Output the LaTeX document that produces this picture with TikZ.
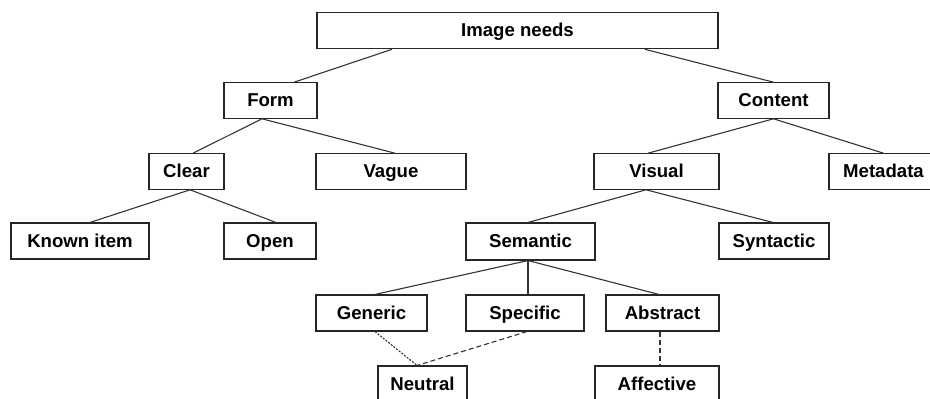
\documentclass[tikz,border=0pt]{standalone}
\usepackage{fontspec}
\setmainfont{Liberation Sans}
\begin{document}
\begin{tikzpicture}[x=1pt,y=-1pt,
  box/.style={draw=black!85,line width=1.1pt,minimum height=35.5pt,inner sep=0pt,
    text height=13.5pt,text depth=1pt,
    font=\fontsize{18.6}{22}\selectfont\bfseries,anchor=center},
  link/.style={draw=black!80,line width=1.1pt},
  dotlink/.style={link,dash pattern=on 2pt off 1.4pt},
  dashlink/.style={link,dash pattern=on 5pt off 3pt}]
\useasboundingbox (0,0) rectangle (930,399);
% tree nodes
\node[box,minimum width=401pt,minimum height=36.5pt] (img) at (517.5,30.5) {Image needs};
\node[box,minimum width=93pt]  (form)     at (270.5,100.5) {Form};
\node[box,minimum width=111pt] (content)  at (773.5,100.5) {Content};
\node[box,minimum width=75pt]  (clear)    at (186.5,171.5) {Clear};
\node[box,minimum width=150pt] (vague)    at (391,171.5)   {Vague};
\node[box,minimum width=125pt] (visual)   at (656.5,171.5) {Visual};
\node[box,minimum width=120pt] (metadata) at (889,171.5)   {\hspace*{-11pt}Metadata};
\node[box,minimum width=138pt,minimum height=36pt] (known)     at (80,241)    {Known item};
\node[box,minimum width=92pt,minimum height=36pt]  (open)      at (270,241)   {Open};
\node[box,minimum width=129pt,minimum height=37pt] (semantic)  at (530.5,241.5) {Semantic};
\node[box,minimum width=110pt,minimum height=36pt] (syntactic) at (774,241)   {Syntactic};
\node[box,minimum width=111pt,minimum height=36pt] (generic)   at (371.5,313) {Generic};
\node[box,minimum width=118pt,minimum height=36pt] (specific)  at (525,313)   {Specific};
\node[box,minimum width=113pt,minimum height=36pt] (abstract)  at (662.5,313) {Abstract};
\node[box,minimum width=89pt,minimum height=36pt]  (neutral)   at (422.5,384) {Neutral};
\node[box,minimum width=124pt,minimum height=36pt] (affective) at (657,384)   {Affective};
% solid branches
\draw[link] ([xshift=-125.5pt]img.south) -- ([xshift=23.5pt]form.north);
\draw[link] ([xshift=127.5pt]img.south) -- (content.north);
\draw[link] ([xshift=-8.5pt]form.south) -- ([xshift=6.5pt]clear.north);
\draw[link] ([xshift=-8.5pt]form.south) -- ([xshift=4pt]vague.north);
\draw[link] ([xshift=3.5pt]clear.south) -- ([xshift=10pt]known.north);
\draw[link] ([xshift=3.5pt]clear.south) -- ([xshift=6pt]open.north);
\draw[link] (content.south) -- ([xshift=-8.5pt]visual.north);
\draw[link] (content.south) -- ([xshift=-5.5pt]metadata.north);
\draw[link] ([xshift=-10.5pt]visual.south) -- ([xshift=-2.5pt]semantic.north);
\draw[link] ([xshift=-10.5pt]visual.south) -- ([xshift=-1pt]syntactic.north);
\draw[link] ([xshift=-2.5pt]semantic.south) -- ([xshift=3.5pt]generic.north);
\draw[link] ([xshift=-2.5pt]semantic.south) -- ([xshift=3pt]specific.north);
\draw[link] ([xshift=-2.5pt]semantic.south) -- ([xshift=-3.5pt]abstract.north);
% broken links
\draw[dotlink] ([xshift=3.5pt]generic.south) -- ([xshift=-5.5pt]neutral.north);
\draw[dashlink] ([xshift=2pt]specific.south) -- ([xshift=-5.5pt]neutral.north);
\draw[dashlink] ([xshift=-2.5pt]abstract.south) -- ([xshift=3pt]affective.north);
\end{tikzpicture}
\end{document}
